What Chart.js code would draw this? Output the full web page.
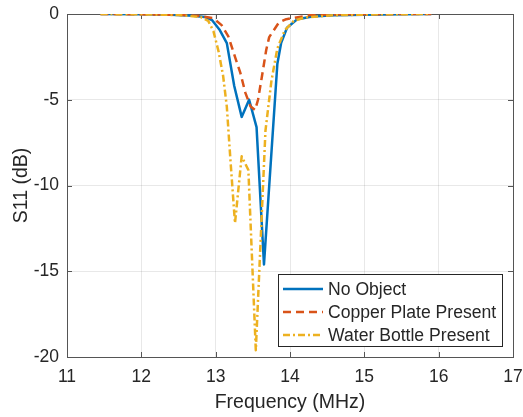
<!DOCTYPE html>
<html>
<head>
<meta charset="utf-8">
<script src="https://cdn.jsdelivr.net/npm/chart.js@4/dist/chart.umd.min.js"></script>
<style>
html,body{margin:0;padding:0;background:#fff;}
#wrap{width:523px;height:417px;}
</style>
</head>
<body>
<div id="wrap"><canvas id="c" width="523" height="417"></canvas></div>
<script>
// ---- data ----
const seriesNames = ["No Object", "Copper Plate Present", "Water Bottle Present"];

const noObjectFreq = [11.45, 12.0, 12.4, 12.7, 12.85, 12.95, 13.05, 13.15, 13.25, 13.35, 13.45, 13.55, 13.65, 13.83, 13.88, 13.96, 14.1, 14.3, 14.6, 15.0, 15.5, 15.9];
const noObjectS11  = [0, -0.02, -0.05, -0.1, -0.17, -0.35, -0.9, -1.7, -4.2, -6.0, -5.0, -6.6, -14.6, -2.9, -1.7, -0.8, -0.3, -0.15, -0.08, -0.04, -0.02, 0];

const copperFreq = [11.45, 12.0, 12.5, 12.8, 12.97, 13.08, 13.17, 13.26, 13.33, 13.4, 13.47, 13.53, 13.57, 13.62, 13.68, 13.72, 13.85, 13.95, 14.3, 14.7, 15.2, 15.9];
const copperS11  = [0, -0.02, -0.05, -0.12, -0.25, -0.65, -1.3, -2.5, -3.4, -4.6, -5.4, -5.6, -5.0, -3.7, -2.1, -1.35, -0.5, -0.3, -0.05, -0.02, -0.01, 0];

const waterFreq = [11.45, 12.0, 12.5, 12.8, 12.9, 12.97, 13.04, 13.1, 13.15, 13.2, 13.26, 13.35, 13.44, 13.54, 13.67, 13.75, 13.83, 13.93, 14.05, 14.2, 14.6, 15.2, 15.9];
const waterS11  = [0, -0.02, -0.06, -0.18, -0.4, -1.0, -2.2, -3.6, -5.4, -8.6, -12.2, -8.3, -9.1, -19.6, -6.8, -3.9, -2.0, -0.95, -0.4, -0.2, -0.07, -0.02, 0];

const xTicks = [11, 12, 13, 14, 15, 16, 17];
const yTicks = [0, -5, -10, -15, -20];

const colors = ["#0072BD", "#D95319", "#EDB120"];
const dashes = [[], [8, 5], [7, 3, 2, 3]];

function pts(xs, ys){ return xs.map((x,i)=>({x:x, y:ys[i]})); }

const FONT = "'Liberation Sans', Arial, Helvetica, sans-serif";
const TXT = "#262626";

const boxPlugin = {
  id: 'boxTicks',
  beforeDatasetsDraw(chart){
    const {ctx, chartArea:a, scales} = chart;
    ctx.save();
    ctx.strokeStyle = "#555555";
    ctx.lineWidth = 1;
    const L = 5;
    ctx.beginPath();
    xTicks.forEach(v=>{
      const px = Math.round(scales.x.getPixelForValue(v)) + 0.5;
      ctx.moveTo(px, a.bottom); ctx.lineTo(px, a.bottom - L);
      ctx.moveTo(px, a.top); ctx.lineTo(px, a.top + L);
    });
    yTicks.forEach(v=>{
      const py = Math.round(scales.y.getPixelForValue(v)) + 0.5;
      ctx.moveTo(a.left, py); ctx.lineTo(a.left + L, py);
      ctx.moveTo(a.right, py); ctx.lineTo(a.right - L, py);
    });
    ctx.stroke();
    ctx.strokeRect(Math.round(a.left)+0.5, Math.round(a.top)+0.5, Math.round(a.right-a.left), Math.round(a.bottom-a.top));
    ctx.restore();
  }
};

const legendPlugin = {
  id: 'insideLegend',
  afterDraw(chart){
    const {ctx, chartArea:a} = chart;
    const w = 224, h = 72;
    const x0 = a.right - 11 - w, y0 = a.bottom - 11 - h;
    ctx.save();
    ctx.fillStyle = "#ffffff";
    ctx.fillRect(x0, y0, w, h);
    ctx.strokeStyle = "#262626";
    ctx.lineWidth = 1;
    ctx.strokeRect(Math.round(x0)+0.5, Math.round(y0)+0.5, w, h);
    ctx.font = "17.6px " + FONT;
    ctx.textBaseline = "middle";
    ctx.fillStyle = TXT;
    seriesNames.forEach((name, i)=>{
      const y = y0 + 15 + i*23;
      ctx.save();
      ctx.strokeStyle = colors[i];
      ctx.lineWidth = 2.5;
      ctx.setLineDash(dashes[i]);
      ctx.beginPath();
      ctx.moveTo(x0 + 5, y); ctx.lineTo(x0 + 45, y);
      ctx.stroke();
      ctx.restore();
      ctx.fillText(name, x0 + 50, y + 1);
    });
    ctx.restore();
  }
};

new Chart(document.getElementById('c'), {
  type: 'line',
  data: {
    datasets: [
      {label: seriesNames[0], data: pts(noObjectFreq, noObjectS11), borderColor: colors[0], borderWidth: 2.5, borderDash: dashes[0], order: 2},
      {label: seriesNames[1], data: pts(copperFreq, copperS11), borderColor: colors[1], borderWidth: 2.5, borderDash: dashes[1], order: 1},
      {label: seriesNames[2], data: pts(waterFreq, waterS11), borderColor: colors[2], borderWidth: 2.5, borderDash: dashes[2], order: 0}
    ]
  },
  options: {
    responsive: false,
    animation: false,
    elements: {point: {radius: 0}, line: {tension: 0, fill: false, borderCapStyle: 'butt', borderJoinStyle: 'round'}},
    layout: {padding: {left: 0, right: 10, top: 14, bottom: 0}},
    plugins: {legend: {display: false}, tooltip: {enabled: false}},
    scales: {
      x: {
        type: 'linear', min: 11, max: 17,
        afterBuildTicks: s => { s.ticks = xTicks.map(v=>({value:v})); },
        afterFit: s => { s.height = 60; s.paddingLeft = 0; s.paddingRight = 0; },
        grid: {color: 'rgba(0,0,0,0.09)', drawTicks: false},
        border: {display: false},
        ticks: {color: TXT, font: {size: 17.5, family: FONT}, padding: 10, maxRotation: 0},
        title: {display: true, text: 'Frequency (MHz)', color: TXT, font: {size: 19.5, family: FONT}, padding: {top: 2, bottom: 3}}
      },
      y: {
        type: 'linear', min: -20, max: 0,
        afterBuildTicks: s => { s.ticks = yTicks.map(v=>({value:v})); },
        afterFit: s => { s.width = 67; s.paddingTop = 0; s.paddingBottom = 0; },
        grid: {color: 'rgba(0,0,0,0.09)', drawTicks: false},
        border: {display: false},
        ticks: {color: TXT, font: {size: 17.5, family: FONT}, padding: 8},
        title: {display: true, text: 'S11 (dB)', color: TXT, font: {size: 19.5, family: FONT}, padding: {top: 10, bottom: 4}}
      }
    }
  },
  plugins: [boxPlugin, legendPlugin]
});
</script>
</body>
</html>
